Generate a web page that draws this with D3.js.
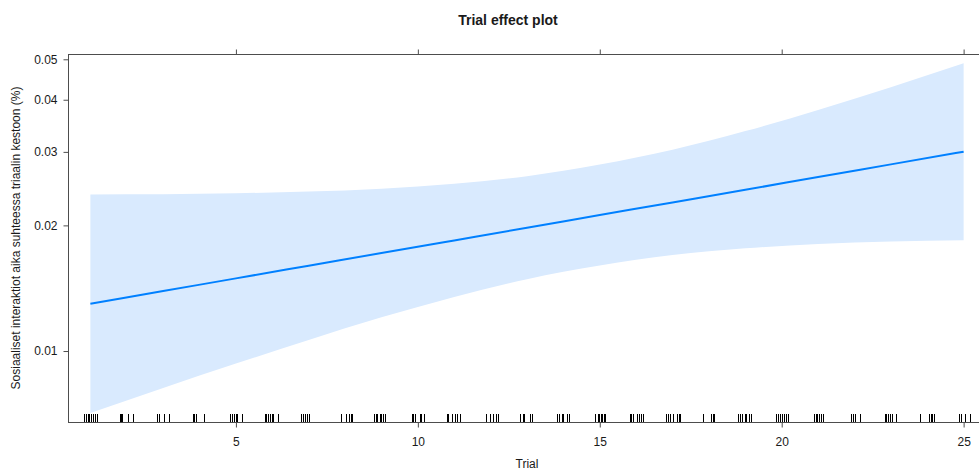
<!DOCTYPE html>
<html>
<head>
<meta charset="utf-8">
<script src="https://cdn.jsdelivr.net/npm/d3@7"></script>
<style>
    body { margin: 0; background: #ffffff; }
    text { font-family: 'Liberation Sans', Arial, sans-serif; fill: #1a1a1a; }
</style>
</head>
<body>
<svg id="chart" width="979" height="470"></svg>
<script>
// fitted effect of Trial (proportion), with confidence band
const trials = [1, 3, 5, 7, 9, 11, 13, 15, 17, 19, 21, 23, 25];
const fit = [0.01298, 0.01392, 0.01493, 0.01601, 0.01717, 0.01841, 0.01974, 0.02117, 0.02270, 0.02434, 0.02611, 0.02800, 0.03003];
const lower = [0.00710, 0.00816, 0.00933, 0.01063, 0.01204, 0.01348, 0.01486, 0.01602, 0.01698, 0.01762, 0.01804, 0.01830, 0.01843];
const upper = [0.02373, 0.02375, 0.02388, 0.02410, 0.02449, 0.02516, 0.02623, 0.02797, 0.03035, 0.03364, 0.03780, 0.04286, 0.04893];

// jittered observed trials (rug)
const rug = [
    0.83, 0.88, 0.93, 0.96, 1.01, 1.07, 1.12, 1.18,
    1.81, 1.85, 1.88, 2.04, 2.16,
    2.84, 2.88, 3.03, 3.17,
    3.81, 3.85, 3.90, 4.12,
    4.85, 4.89, 4.95, 4.99, 5.03, 5.16,
    5.80, 5.84, 5.89, 5.93, 5.98, 6.03, 6.16,
    6.80, 6.85, 6.90, 6.94, 7.01,
    7.88, 8.02, 8.10, 8.15, 8.19,
    8.80, 8.85, 8.89, 8.96, 8.98, 9.03, 9.09,
    9.83, 9.87, 9.92, 10.05, 10.10, 10.17,
    10.80, 10.83, 10.95, 11.02, 11.08, 11.15,
    11.87, 11.98, 12.07, 12.14, 12.20,
    12.82, 12.88, 12.92, 13.08, 13.15,
    13.83, 13.88, 13.95, 13.99, 14.11, 14.16,
    14.88, 14.94, 14.98, 15.03, 15.07, 15.11, 15.15,
    15.82, 15.87, 15.91, 16.01, 16.07, 16.13, 16.19,
    16.81, 16.88, 16.92, 17.00, 17.11, 17.18, 17.20,
    17.84, 18.05, 18.10, 18.14,
    18.80, 18.85, 18.92, 18.98, 19.03, 19.09, 19.15,
    19.85, 19.90, 19.95, 20.02, 20.06, 20.11, 20.17,
    20.88, 20.93, 20.97, 21.02, 21.09, 21.13,
    21.91, 21.96, 22.01, 22.16,
    22.83, 22.88, 22.92, 22.97, 23.04, 23.15,
    23.81, 24.05, 24.09, 24.14, 24.18,
    24.86, 24.94, 25.03, 25.05, 25.18
];

const xTicks = [5, 10, 15, 20, 25];
const yTicks = [0.01, 0.02, 0.03, 0.04, 0.05];

const title = 'Trial effect plot';
const xTitle = 'Trial';
const yTitle = 'Sosiaaliset interaktiot aika suhteessa triaalin kestoon (%)';

const panel = { left: 68, right: 986, top: 54, bottom: 422 };
const lineColor = '#0080ff';
const bandColor = '#d9eafe';
const frameColor = '#4d4d4d';

const svg = d3.select('#chart');

const x = d3.scaleLinear()
    .domain([0.385, 25.615])
    .range([panel.left, panel.right]);

const y = d3.scaleLog()
    .domain([0.00676, 0.05148])
    .range([panel.bottom, panel.top]);

const rows = trials.map((t, i) => ({ t, fit: fit[i], lo: lower[i], hi: upper[i] }));

// band
svg.append('path')
    .datum(rows)
    .attr('fill', bandColor)
    .attr('d', d3.area()
        .x(d => x(d.t))
        .y0(d => y(d.lo))
        .y1(d => y(d.hi))
        .curve(d3.curveMonotoneX));

// fitted line
svg.append('path')
    .datum(rows)
    .attr('fill', 'none')
    .attr('stroke', lineColor)
    .attr('stroke-width', 2)
    .attr('d', d3.line()
        .x(d => x(d.t))
        .y(d => y(d.fit))
        .curve(d3.curveMonotoneX));

// rug
svg.append('g')
    .selectAll('line')
    .data(rug)
    .join('line')
    .attr('x1', d => Math.round(x(d)) + 0.5)
    .attr('x2', d => Math.round(x(d)) + 0.5)
    .attr('y1', panel.bottom - 8)
    .attr('y2', panel.bottom)
    .attr('stroke', '#000000')
    .attr('stroke-width', 1);

// frame
svg.append('rect')
    .attr('x', panel.left + 0.5)
    .attr('y', panel.top + 0.5)
    .attr('width', panel.right - panel.left)
    .attr('height', panel.bottom - panel.top)
    .attr('fill', 'none')
    .attr('stroke', frameColor)
    .attr('stroke-width', 1);

const styleAxis = g => {
    g.select('.domain').remove();
    g.selectAll('.tick line').attr('stroke', frameColor);
    g.selectAll('.tick text')
        .attr('font-size', 12)
        .attr('fill', '#1a1a1a')
        .attr('font-family', "'Liberation Sans', Arial, sans-serif");
};

svg.append('g')
    .attr('transform', `translate(0,${panel.bottom + 0.5})`)
    .call(d3.axisBottom(x).tickValues(xTicks).tickSize(5).tickPadding(10))
    .call(styleAxis);

svg.append('g')
    .attr('transform', `translate(0,${panel.top + 0.5})`)
    .call(d3.axisTop(x).tickValues(xTicks).tickSize(5).tickFormat(''))
    .call(styleAxis);

svg.append('g')
    .attr('transform', `translate(${panel.left + 0.5},0)`)
    .call(d3.axisLeft(y).tickValues(yTicks).tickSize(5).tickPadding(6).tickFormat(d3.format('.2f')))
    .call(styleAxis);

svg.append('g')
    .attr('transform', `translate(${panel.right + 0.5},0)`)
    .call(d3.axisRight(y).tickValues(yTicks).tickSize(5).tickFormat(''))
    .call(styleAxis);

// titles
svg.append('text')
    .attr('x', 508)
    .attr('y', 25)
    .attr('text-anchor', 'middle')
    .attr('font-size', 14)
    .attr('font-weight', 'bold')
    .text(title);

svg.append('text')
    .attr('x', (panel.left + panel.right) / 2)
    .attr('y', 468)
    .attr('text-anchor', 'middle')
    .attr('font-size', 12)
    .text(xTitle);

svg.append('text')
    .attr('transform', `translate(20,${(panel.top + panel.bottom) / 2}) rotate(-90)`)
    .attr('text-anchor', 'middle')
    .attr('font-size', 12)
    .text(yTitle);
</script>
</body>
</html>
